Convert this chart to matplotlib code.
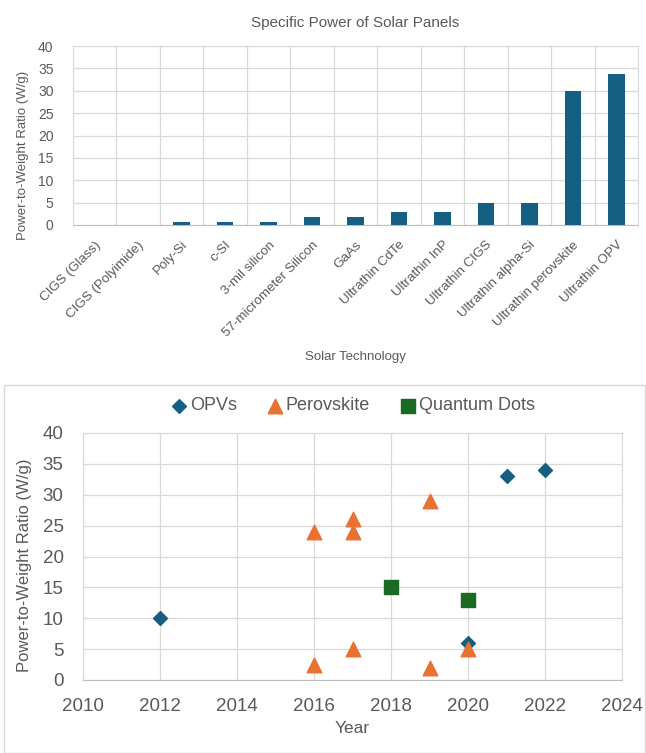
import matplotlib
matplotlib.use("Agg")
import matplotlib.pyplot as plt
from matplotlib.patches import Rectangle

plt.rcParams['font.family'] = ['Liberation Sans', 'DejaVu Sans']

# ---- data ----
technologies = ["CIGS (Glass)", "CIGS (Polyimide)", "Poly-Si", "c-SI", "3-mil silicon",
                "57-micrometer Silicon", "GaAs", "Ultrathin CdTe", "Ultrathin InP",
                "Ultrathin CIGS", "Ultrathin alpha-Si", "Ultrathin perovskite", "Ultrathin OPV"]
specific_power = [0.02, 0.05, 0.6, 0.6, 0.7, 1.8, 1.7, 3.0, 3.0, 5.0, 5.0, 30.0, 33.8]

opv_years = [2012, 2020, 2021, 2022]
opv_values = [10, 6, 33, 34]
perov_years = [2016, 2016, 2017, 2017, 2017, 2019, 2019, 2020]
perov_values = [24, 2.5, 26, 24, 5, 29, 2, 5]
qd_years = [2018, 2020]
qd_values = [15, 13]

BLUE = "#156082"
ORANGE = "#E97132"
GREEN = "#196B24"
GRID = "#D9D9D9"
TXT = "#595959"

W, H = 646, 753
fig = plt.figure(figsize=(W / 100, H / 100), dpi=100)

def ax_rect(x0, y0, x1, y1):
    return [x0 / W, 1 - y1 / H, (x1 - x0) / W, (y1 - y0) / H]

# ---- top bar chart ----
ax1 = fig.add_axes(ax_rect(73, 46, 638, 225))
n = len(technologies)
xs = list(range(n))
ax1.bar(xs, specific_power, width=0.38, color=BLUE, zorder=3)
ax1.set_xlim(-0.5, n - 0.5)
ax1.set_ylim(0, 40)
ax1.set_yticks(range(0, 41, 5))
ax1.set_xticks(xs)
ax1.set_xticklabels(technologies, rotation=45, ha='right', rotation_mode='anchor',
                    fontsize=9.6, color=TXT)
for lbl in ax1.get_yticklabels():
    lbl.set_fontsize(10)
    lbl.set_color(TXT)
ax1.set_xticks([i + 0.5 for i in range(n - 1)], minor=True)
ax1.grid(axis='y', color=GRID, linewidth=0.9, zorder=0)
ax1.grid(axis='x', which='minor', color=GRID, linewidth=0.9, zorder=0)
ax1.tick_params(axis='both', which='both', length=0)
ax1.tick_params(axis='y', pad=14)
ax1.tick_params(axis='x', pad=10)
for s in ['top', 'right', 'left']:
    ax1.spines[s].set_color(GRID)
ax1.spines['bottom'].set_color("#BFBFBF")
ax1.set_title("Specific Power of Solar Panels", fontsize=11, color=TXT, pad=14)
ax1.set_ylabel("Power-to-Weight Ratio (W/g)", fontsize=9.5, color=TXT)
ax1.yaxis.set_label_coords(-0.077, 0.39)
ax1.set_xlabel("Solar Technology", fontsize=9.5, color=TXT, labelpad=9)

# ---- bottom scatter chart ----
fig.patches.append(Rectangle((4 / W, 0), (W - 5) / W, (H - 385) / H, transform=fig.transFigure,
                             fill=False, edgecolor="#D9D9D9", linewidth=1.0))

ax2 = fig.add_axes(ax_rect(83, 433, 622, 680))
ax2.scatter(opv_years, opv_values, marker='D', s=50, color=BLUE, label="OPVs", zorder=3)
ax2.scatter(perov_years, perov_values, marker='^', s=110, color=ORANGE, label="Perovskite", zorder=3)
ax2.scatter(qd_years, qd_values, marker='s', s=100, color=GREEN, label="Quantum Dots", zorder=3)
ax2.set_xlim(2010, 2024)
ax2.set_ylim(0, 40)
ax2.set_xticks(range(2010, 2025, 2))
ax2.set_yticks(range(0, 41, 5))
ax2.grid(True, color=GRID, linewidth=0.9, zorder=0)
ax2.tick_params(axis='both', length=0, labelsize=13.5, labelcolor=TXT)
ax2.tick_params(axis='y', pad=14)
ax2.tick_params(axis='x', pad=13)
for s in ['top', 'right', 'left']:
    ax2.spines[s].set_color(GRID)
ax2.spines['bottom'].set_color("#BFBFBF")
ax2.set_xlabel("Year", fontsize=12.5, color=TXT, labelpad=4)
ax2.set_ylabel("Power-to-Weight Ratio (W/g)", fontsize=12, color=TXT)
ax2.yaxis.set_label_coords(-0.095, 0.466)
leg = ax2.legend(loc='lower center', bbox_to_anchor=(0.5, 1.01), ncol=3, frameon=False,
                 fontsize=13, handletextpad=0.1, columnspacing=1.6, handlelength=1.0,
                 labelcolor=TXT)

fig.savefig("out.png", dpi=100)
